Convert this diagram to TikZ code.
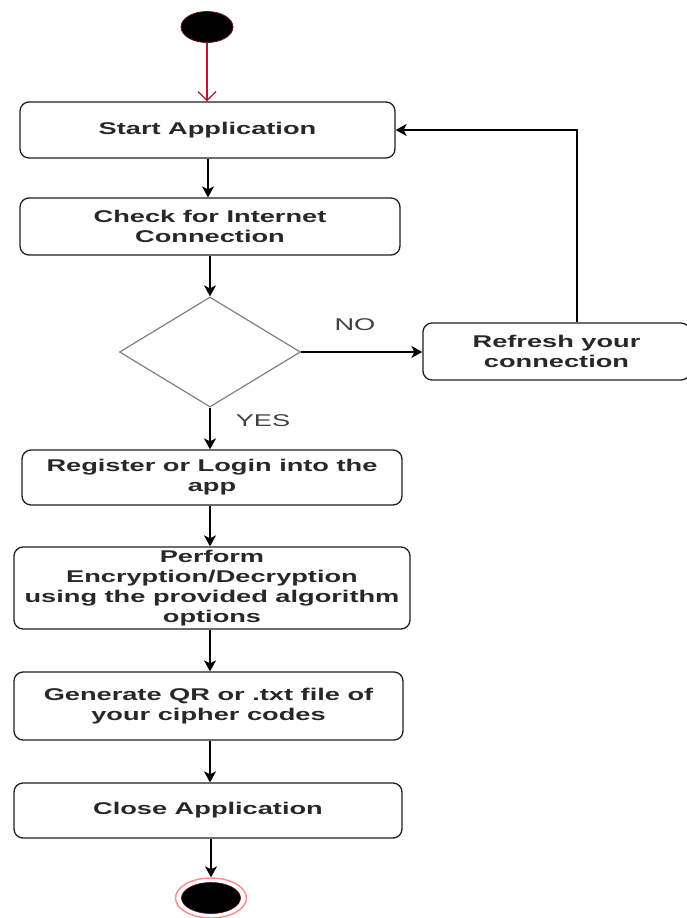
\documentclass[tikz,border=0pt]{standalone}
\usepackage{fontspec}
\setmainfont{Liberation Sans}[FakeStretch=1.6]
\usetikzlibrary{arrows.meta,shapes.geometric}
\definecolor{startred}{RGB}{178,24,48}
\definecolor{txt}{RGB}{40,40,40}
\begin{document}
\begin{tikzpicture}[x=1pt,y=-1pt,
  box/.style={draw=black!88, line width=1.3pt, rounded corners=9pt, align=center,
    inner sep=0pt, font=\fontsize{17}{20}\selectfont\bfseries, text=txt},
  arr/.style={draw=black, line width=1.4pt, -{Stealth[length=11pt,width=12pt,inset=3pt]}},
  lbl/.style={font=\fontsize{17}{20}\selectfont, text=black!75, inner sep=0pt}]
\useasboundingbox (0,0) rectangle (686,918);
\fill[white] (0,0) rectangle (686,918);

\node[ellipse, fill=black, draw=startred!60!black, line width=0.8pt, minimum width=52pt, minimum height=31pt, inner sep=0pt] (init) at (207,27) {};

\node[box, minimum width=375pt, minimum height=56pt] (start) at (207.5,130) {Start Application};
\node[box, minimum width=380pt, minimum height=57pt] (check) at (210,226.5) {Check for Internet\\Connection};
\node[diamond, draw=black!50, line width=1.2pt, minimum width=181pt, minimum height=110pt, aspect=1.645, inner sep=0pt] (dec) at (210,352) {};
\node[box, minimum width=267pt, minimum height=57pt] (refresh) at (556.5,351.5) {Refresh your\\connection};
\node[box, minimum width=380pt, minimum height=55pt] (register) at (212,477.5) {Register or Login into the\\app};
\node[box, minimum width=396pt, minimum height=82pt] (perform) at (212,588) {Perform\\Encryption/Decryption\\using the provided algorithm\\options};
\node[box, minimum width=389pt, minimum height=68pt] (generate) at (208.5,706) {Generate QR or .txt file of\\your cipher codes};
\node[box, minimum width=388pt, minimum height=55pt] (close) at (208,810.5) {Close Application};

\node[ellipse, draw=red!45, fill=white, line width=1.4pt, minimum width=71pt, minimum height=40pt, inner sep=0pt] (final) at (211,898) {};
\node[ellipse, fill=black, draw=startred!50!black, line width=0.6pt, minimum width=59pt, minimum height=31pt, inner sep=0pt] (finalin) at (211,898) {};

\node[lbl] (no) at (355,325) {NO};
\node[lbl] (yes) at (263,421) {YES};

\coordinate (loopx) at (577,130);

\draw[startred, line width=1.2pt, -{Straight Barb[length=9pt,width=18pt]}] (init.south) -- (init.south |- start.north);
\draw[arr] (start.south -| 208,0) -- (check.north -| 208,0);
\draw[arr] (check.south -| dec.north) -- (dec.north);
\draw[arr] (dec.east) -- (dec.east -| refresh.west);
\draw[arr] (refresh.north -| loopx) -- (loopx) -- (start.east);
\draw[arr] (dec.south) -- (dec.south |- register.north);
\draw[arr] (register.south -| dec.south) -- (perform.north -| dec.south);
\draw[arr] (perform.south -| dec.south) -- (generate.north -| dec.south);
\draw[arr] (generate.south -| dec.south) -- (close.north -| dec.south);
\draw[arr] (close.south -| final.north) -- (final.north);
\end{tikzpicture}
\end{document}
